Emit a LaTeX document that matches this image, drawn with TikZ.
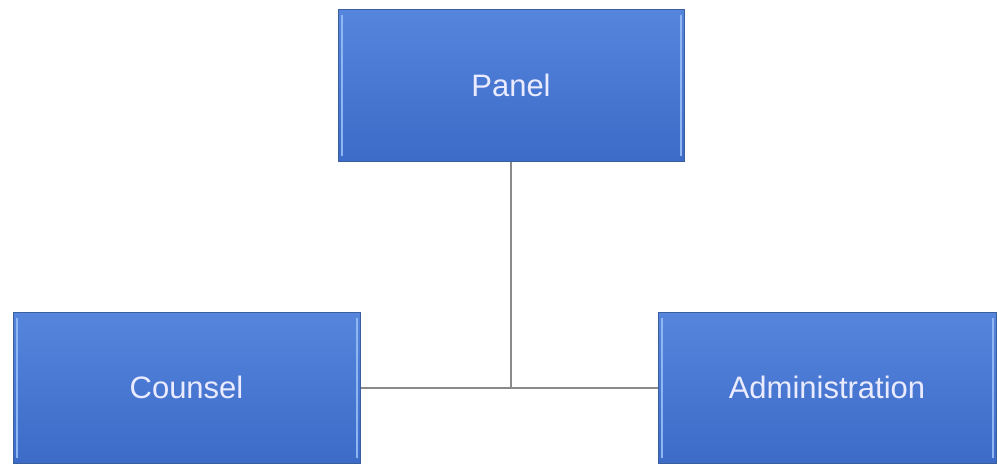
\documentclass[tikz,border=0pt]{standalone}
\usepackage{fontspec}
\setmainfont{Liberation Sans}
\definecolor{boxtop}{HTML}{5585DC}
\definecolor{boxbot}{HTML}{3C6BC8}
\definecolor{boxedge}{HTML}{3A5E9E}
\definecolor{bevel}{HTML}{8DB6F2}
\definecolor{linkgray}{HTML}{8A8A8A}
\tikzset{
  orgbox/.style={rectangle, minimum width=346pt, minimum height=152pt, inner sep=0pt,
    top color=boxtop, bottom color=boxbot, draw=boxedge, line width=1pt,
    text=white!92!blue, font=\fontsize{31}{35}\selectfont},
  link/.style={draw=linkgray, line width=2pt}
}
\begin{document}
\begin{tikzpicture}[x=1pt,y=-1pt]
\useasboundingbox (0,0) rectangle (998,466);
\node[orgbox] (panel) at (511,85) {Panel};
\node[orgbox, minimum width=347pt, minimum height=151pt] (counsel) at (186.5,387.5) {Counsel};
\node[orgbox, minimum width=338pt, minimum height=151pt] (admin) at (827,387.5) {Administration};
\foreach \n in {panel,counsel,admin}{
  \draw[bevel, line width=2.5pt] ([xshift=4.5pt,yshift=-6pt]\n.north west) -- ([xshift=4.5pt,yshift=6pt]\n.south west);
  \draw[bevel, line width=2.5pt] ([xshift=-3.5pt,yshift=-6pt]\n.north east) -- ([xshift=-3.5pt,yshift=6pt]\n.south east);
}
\coordinate (j) at (panel.south |- counsel.east);
\draw[link] (panel.south) -- (j);
\draw[link] (counsel.east) -- (admin.west);
\end{tikzpicture}
\end{document}
